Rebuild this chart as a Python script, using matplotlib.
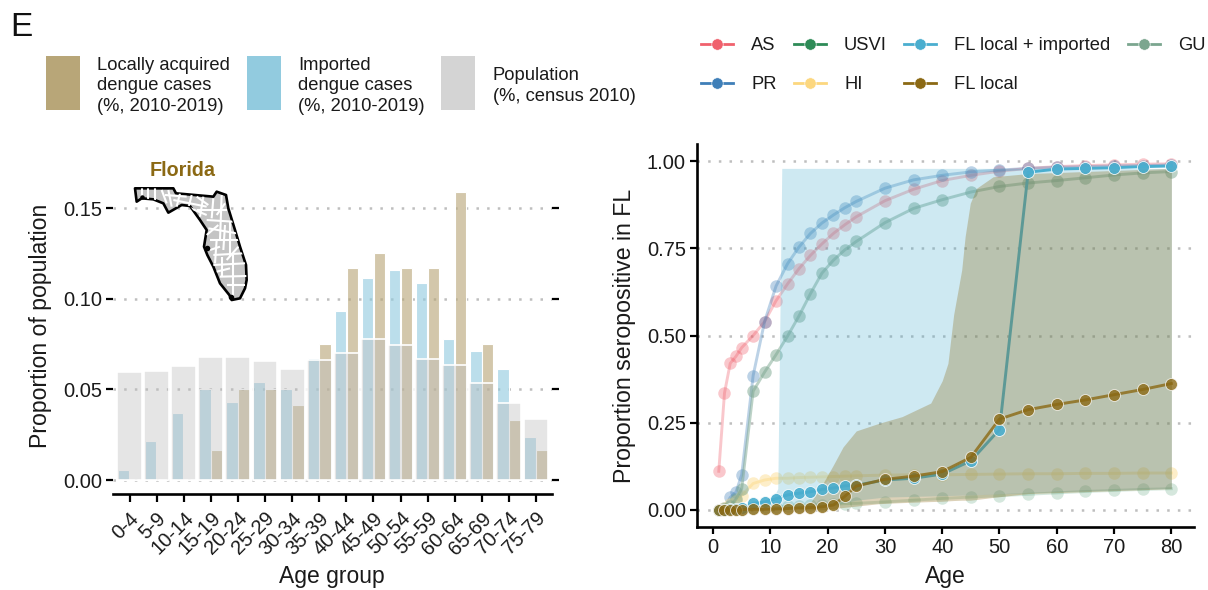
import matplotlib
matplotlib.use("Agg")
import matplotlib.pyplot as plt
from matplotlib.colors import to_rgba
from matplotlib.lines import Line2D
from matplotlib.patches import Polygon, Rectangle

plt.rcParams['font.family'] = ['Liberation Sans', 'DejaVu Sans']

W, H = 1208, 590

# left panel, proportions by age group
age_groups = ['0-4', '5-9', '10-14', '15-19', '20-24', '25-29', '30-34', '35-39',
              '40-44', '45-49', '50-54', '55-59', '60-64', '65-69', '70-74', '75-79']
population = [0.0596, 0.0600, 0.0630, 0.0680, 0.0682, 0.0655, 0.0615, 0.0660,
              0.0700, 0.0780, 0.0746, 0.0670, 0.0633, 0.0534, 0.0427, 0.0338]
imported = [0.0058, 0.0213, 0.0370, 0.0500, 0.0430, 0.0542, 0.0500, 0.0672,
            0.0934, 0.1118, 0.1160, 0.1090, 0.0780, 0.0710, 0.0614, 0.0239]
local = [0, 0, 0, 0.0164, 0.0500, 0.0500, 0.0415, 0.0750,
         0.1173, 0.1256, 0.1173, 0.1173, 0.1590, 0.0750, 0.0333, 0.0165]

# right panel, seropositivity by age
ages = [1, 2, 3, 4, 5, 7, 9, 11, 13, 15, 17, 19, 21, 23, 25,
        30, 35, 40, 45, 50, 55, 60, 65, 70, 75, 80]
as_vals = [0.11, 0.335, 0.42, 0.44, 0.465, 0.50, 0.54, 0.60, 0.648, 0.692, 0.73, 0.763, 0.793,
           0.818, 0.841, 0.887, 0.92, 0.945, 0.96, 0.972, 0.98, 0.985, 0.988, 0.99, 0.992, 0.993]
pr_vals = [0.0, 0.005, 0.035, 0.05, 0.10, 0.385, 0.54, 0.642, 0.706, 0.754, 0.793, 0.823, 0.846,
           0.867, 0.885, 0.923, 0.947, 0.96, 0.97, 0.975, 0.98, 0.983, 0.985, 0.987, 0.988, 0.99]
gu_vals = [0.0, 0.002, 0.01, 0.03, 0.06, 0.34, 0.395, 0.445, 0.498, 0.556, 0.62, 0.679, 0.716,
           0.746, 0.77, 0.824, 0.865, 0.89, 0.912, 0.928, 0.938, 0.945, 0.953, 0.961, 0.967, 0.971]
usvi_vals = [0.0, 0.001, 0.001, 0.002, 0.003, 0.005, 0.007, 0.008, 0.01, 0.011, 0.013, 0.014, 0.015,
             0.017, 0.018, 0.022, 0.027, 0.032, 0.036, 0.04, 0.044, 0.048, 0.052, 0.055, 0.058, 0.06]
hi_vals = [0.0, 0.005, 0.015, 0.025, 0.04, 0.075, 0.085, 0.09, 0.09, 0.092, 0.093, 0.094, 0.095,
           0.096, 0.097, 0.099, 0.1, 0.1, 0.101, 0.102, 0.103, 0.103, 0.104, 0.104, 0.105, 0.105]
fl_both = [0.0, 0.0, 0.001, 0.002, 0.004, 0.018, 0.022, 0.031, 0.042, 0.047, 0.051, 0.058, 0.062,
           0.068, 0.07, 0.085, 0.09, 0.102, 0.14, 0.23, 0.969, 0.978, 0.98, 0.982, 0.985, 0.987]
fl_local = [0.0, 0.0, 0.0, 0.0, 0.0, 0.001, 0.001, 0.002, 0.003, 0.005, 0.006, 0.008, 0.013,
            0.038, 0.0675, 0.087, 0.096, 0.109, 0.15, 0.26, 0.287, 0.302, 0.315, 0.33, 0.345, 0.362]

# credible bands
both_x = [3, 5, 7, 8, 9, 10, 11, 11.3, 12, 19, 21, 25, 30, 40, 45, 60, 80]
both_low = [0, 0, 0, 0, 0, 0, 0, 0, 0.002, 0.008, 0.012, 0.027, 0.036, 0.04, 0.042, 0.051, 0.061]
both_up = [0.001, 0.004, 0.009, 0.012, 0.02, 0.035, 0.05, 0.06, 0.98, 0.98, 0.98, 0.98, 0.98, 0.98, 0.98, 0.98, 0.98]
local_x = [15, 17, 19, 21, 22.7, 25, 29, 33, 38, 40, 41, 42, 43.4, 44, 44.9, 46, 48.9, 55, 80]
local_low = [0, 0, 0, 0.003, 0.006, 0.01, 0.017, 0.02, 0.023, 0.024, 0.025, 0.026, 0.027, 0.027,
             0.027, 0.029, 0.035, 0.046, 0.06]
local_up = [0.005, 0.02, 0.07, 0.128, 0.18, 0.226, 0.248, 0.267, 0.306, 0.37, 0.42, 0.56, 0.688,
            0.784, 0.88, 0.923, 0.956, 0.965, 0.98]

TAN = '#B8A678'
BLUE = '#92CBDF'
GRAY = '#BEBEBE'
DOT = '#BEBEBE'
BROWN = '#8B6914'
SKY = '#4AAECF'
TXT = '#1a1a1a'


def px_axes(fig, left, right, top, bottom):
    return fig.add_axes([left / W, 1 - bottom / H, (right - left) / W, (bottom - top) / H])


def style_axes(ax):
    ax.set_axisbelow(True)
    ax.grid(axis='y', color=DOT, linewidth=1.8, linestyle=(0, (1, 3.27)))
    ax.grid(axis='x', visible=False)
    ax.spines['top'].set_visible(False)
    ax.spines['right'].set_visible(False)
    ax.spines['bottom'].set_linewidth(1.9)
    ax.tick_params(labelsize=14.5, width=1.6, length=5, color='black', labelcolor=TXT)


fig = plt.figure(figsize=(W / 100, H / 100), dpi=100)

# proportion bars
ax1 = px_axes(fig, 113, 552, 177, 494)
style_axes(ax1)
ax1.spines['left'].set_visible(False)
pos = list(range(len(age_groups)))
ax1.bar([p - 0.22 for p in pos], imported, width=0.42, color=to_rgba(BLUE, 0.62), edgecolor='white', linewidth=0.8)
ax1.bar([p + 0.22 for p in pos], local, width=0.42, color=to_rgba(TAN, 0.62), edgecolor='white', linewidth=0.8)
ax1.bar(pos, population, width=0.92, color=to_rgba(GRAY, 0.4), edgecolor='white', linewidth=1.2)
ax1.set_xlim(-0.61, 15.59)
ax1.set_ylim(-0.0077, 0.1673)
ax1.set_xticks(pos)
ax1.set_xticklabels(age_groups, rotation=45, ha='right', va='top', rotation_mode='anchor')
ax1.set_yticks([0, 0.05, 0.10, 0.15])
ax1.set_yticklabels(['0.00', '0.05', '0.10', '0.15'])
ax1.tick_params(axis='y', right=True, left=True, pad=3)
ax1.tick_params(axis='x', pad=5, length=5.5)
ax1.set_xlabel('Age group', fontsize=16.5, color=TXT)
ax1.xaxis.set_label_coords((332 - 113) / 439, -(576 - 494) / 317, transform=ax1.transAxes)
ax1.xaxis.label.set_va('center')
ax1.set_ylabel('Proportion of population', fontsize=16.6, color=TXT)
ax1.yaxis.set_label_coords(-(113 - 41) / 439, (494 - 325.5) / 317, transform=ax1.transAxes)
ax1.yaxis.label.set_va('center')

# seropositivity curves
ax2 = px_axes(fig, 697, 1194, 144, 527)
style_axes(ax2)
ax2.spines['left'].set_linewidth(1.9)

faint = [
    ('AS', as_vals, '#F0616D', 0.35),
    ('PR', pr_vals, '#3F7FB8', 0.35),
    ('USVI', usvi_vals, '#2E8B57', 0.2),
    ('HI', hi_vals, '#FCD77F', 0.42),
    ('GU', gu_vals, '#7BA68F', 0.5),
]
for name, vals, col, a in faint:
    ax2.plot(ages, vals, color=col, alpha=a, linewidth=2.1, marker='o', markersize=9,
             markeredgewidth=0, zorder=1.2)

# the bands sit over the faint series and the FL local + imported line, not over the FL points
ax2.plot(ages, fl_both, color=SKY, linewidth=2.1, zorder=1.3)
ax2.fill_between(both_x, both_low, both_up, color=SKY, alpha=0.27, linewidth=0, zorder=1.4)
ax2.fill_between(local_x, local_low, local_up, color=BROWN, alpha=0.3, linewidth=0, zorder=1.5)
ax2.plot(ages, fl_both, linestyle='none', color=SKY, alpha=0.9, marker='o', markersize=8.6,
         markeredgecolor='white', markeredgewidth=0.6, zorder=3)
ax2.plot(ages, fl_local, color=BROWN, alpha=0.8, linewidth=2.1, marker='o', markersize=8.6,
         markeredgecolor='white', markeredgewidth=0.6, zorder=3.1)

ax2.set_xlim(-2.8, 83.95)
ax2.set_ylim(-0.05, 1.05)
ax2.set_xticks([0, 10, 20, 30, 40, 50, 60, 70, 80])
ax2.set_yticks([0, 0.25, 0.5, 0.75, 1.0])
ax2.set_yticklabels(['0.00', '0.25', '0.50', '0.75', '1.00'])
ax2.tick_params(pad=3)
ax2.set_xlabel('Age', fontsize=16.5, color=TXT)
ax2.xaxis.set_label_coords((945 - 697) / 497, -(576 - 527) / 383, transform=ax2.transAxes)
ax2.xaxis.label.set_va('center')
ax2.set_ylabel('Proportion seropositive in FL', fontsize=16.7, color=TXT)
ax2.yaxis.set_label_coords(-(697 - 624) / 497, 0.5, transform=ax2.transAxes)
ax2.yaxis.label.set_va('center')

# legend on top of the right panel
legend_items = [('AS', '#F0616D'), ('PR', '#3F7FB8'), ('USVI', '#2E8B57'), ('HI', '#FCD77F'),
                ('FL local + imported', SKY), ('FL local', BROWN), ('GU', '#7BA68F')]
handles = [Line2D([], [], color=col, linewidth=2, marker='o', markersize=8.2,
                  markeredgecolor='white', markeredgewidth=0.4) for name, col in legend_items]
fig.legend(handles, [name for name, col in legend_items], ncol=4, frameon=False, fontsize=13.2,
           labelcolor=TXT, loc='upper left', bbox_to_anchor=(701 / W, 1 - 37 / H), borderaxespad=0,
           borderpad=0, handlelength=1.75, handletextpad=0.98, columnspacing=0.95, labelspacing=1.2)

# overlay in pixel coordinates, for the left legend, panel tag and map
over = fig.add_axes([0, 0, 1, 1], facecolor='none')
over.set_xlim(0, W)
over.set_ylim(H, 0)
over.axis('off')

over.text(10, 28, 'E', fontsize=24, ha='left', va='center', color='#111111')
over.add_patch(Rectangle((46, 56), 34, 54, color=TAN, linewidth=0))
over.add_patch(Rectangle((247, 56), 34, 54, color=BLUE, linewidth=0))
over.add_patch(Rectangle((441, 56), 34, 54, color='#D4D4D4', linewidth=0))
leg_style = dict(fontsize=13.2, color=TXT, ha='left', va='center', linespacing=1.25)
over.text(97, 86, 'Locally acquired\ndengue cases\n(%, 2010-2019)', **leg_style)
over.text(298, 86, 'Imported\ndengue cases\n(%, 2010-2019)', **leg_style)
over.text(493, 86, 'Population\n(%, census 2010)', **leg_style)

# Florida outline, traced by hand
fl_outline = [(405, 145), (520, 145), (528, 160), (640, 170), (650, 155), (678, 165), (685, 205),
              (705, 270), (720, 320), (738, 375), (740, 420), (735, 445), (720, 475), (695, 480),
              (688, 465), (660, 430), (640, 380), (622, 345), (612, 320), (620, 270), (600, 240),
              (570, 198), (545, 195), (505, 218), (490, 190), (460, 178), (425, 175), (410, 185)]
fl_counties = [[(425, 145), (425, 178)], [(445, 145), (445, 178)], [(465, 145), (465, 180)],
               [(485, 150), (500, 190)], [(505, 150), (515, 200)], [(520, 180), (620, 200)],
               [(540, 160), (530, 200)], [(575, 165), (565, 205)], [(610, 170), (600, 230)],
               [(640, 175), (635, 235)], [(590, 210), (680, 210)], [(620, 240), (700, 245)],
               [(665, 165), (660, 300)], [(625, 265), (710, 280)], [(630, 300), (720, 300)],
               [(650, 300), (645, 370)], [(690, 245), (690, 350)], [(640, 345), (730, 340)],
               [(665, 350), (665, 410)], [(640, 375), (735, 370)], [(700, 345), (700, 470)],
               [(660, 410), (740, 408)], [(680, 435), (735, 435)], [(560, 200), (620, 225)],
               [(495, 165), (560, 170)], [(590, 170), (625, 195)], [(650, 225), (675, 190)],
               [(620, 285), (655, 255)], [(675, 255), (670, 330)], [(630, 330), (660, 320)],
               [(715, 320), (680, 360)], [(650, 395), (690, 385)]]


def fl_px(p):
    # traced on a crop starting at y=140, scaled 3x
    return (p[0] / 3, 140 + p[1] / 3)


shape = Polygon([fl_px(p) for p in fl_outline], closed=True, facecolor='#C4C4C4', edgecolor='none')
over.add_patch(shape)
for seg in fl_counties:
    a, b = fl_px(seg[0]), fl_px(seg[1])
    ln, = over.plot([a[0], b[0]], [a[1], b[1]], color='white', linewidth=1.5, solid_capstyle='butt')
    ln.set_clip_path(shape)
over.add_patch(Polygon([fl_px(p) for p in fl_outline], closed=True, facecolor='none',
                       edgecolor='black', linewidth=1.9, joinstyle='round'))
for p, r in [((622, 325), 2.5), ((692, 472), 2.5), ((425, 172), 2)]:
    x, y = fl_px(p)
    over.plot([x], [y], 'o', color='black', markersize=r * 1.6, markeredgewidth=0)
over.text(183, 171, 'Florida', fontsize=14.2, fontweight='bold', color=BROWN, ha='center', va='center')

fig.savefig('out.png', dpi=100)
